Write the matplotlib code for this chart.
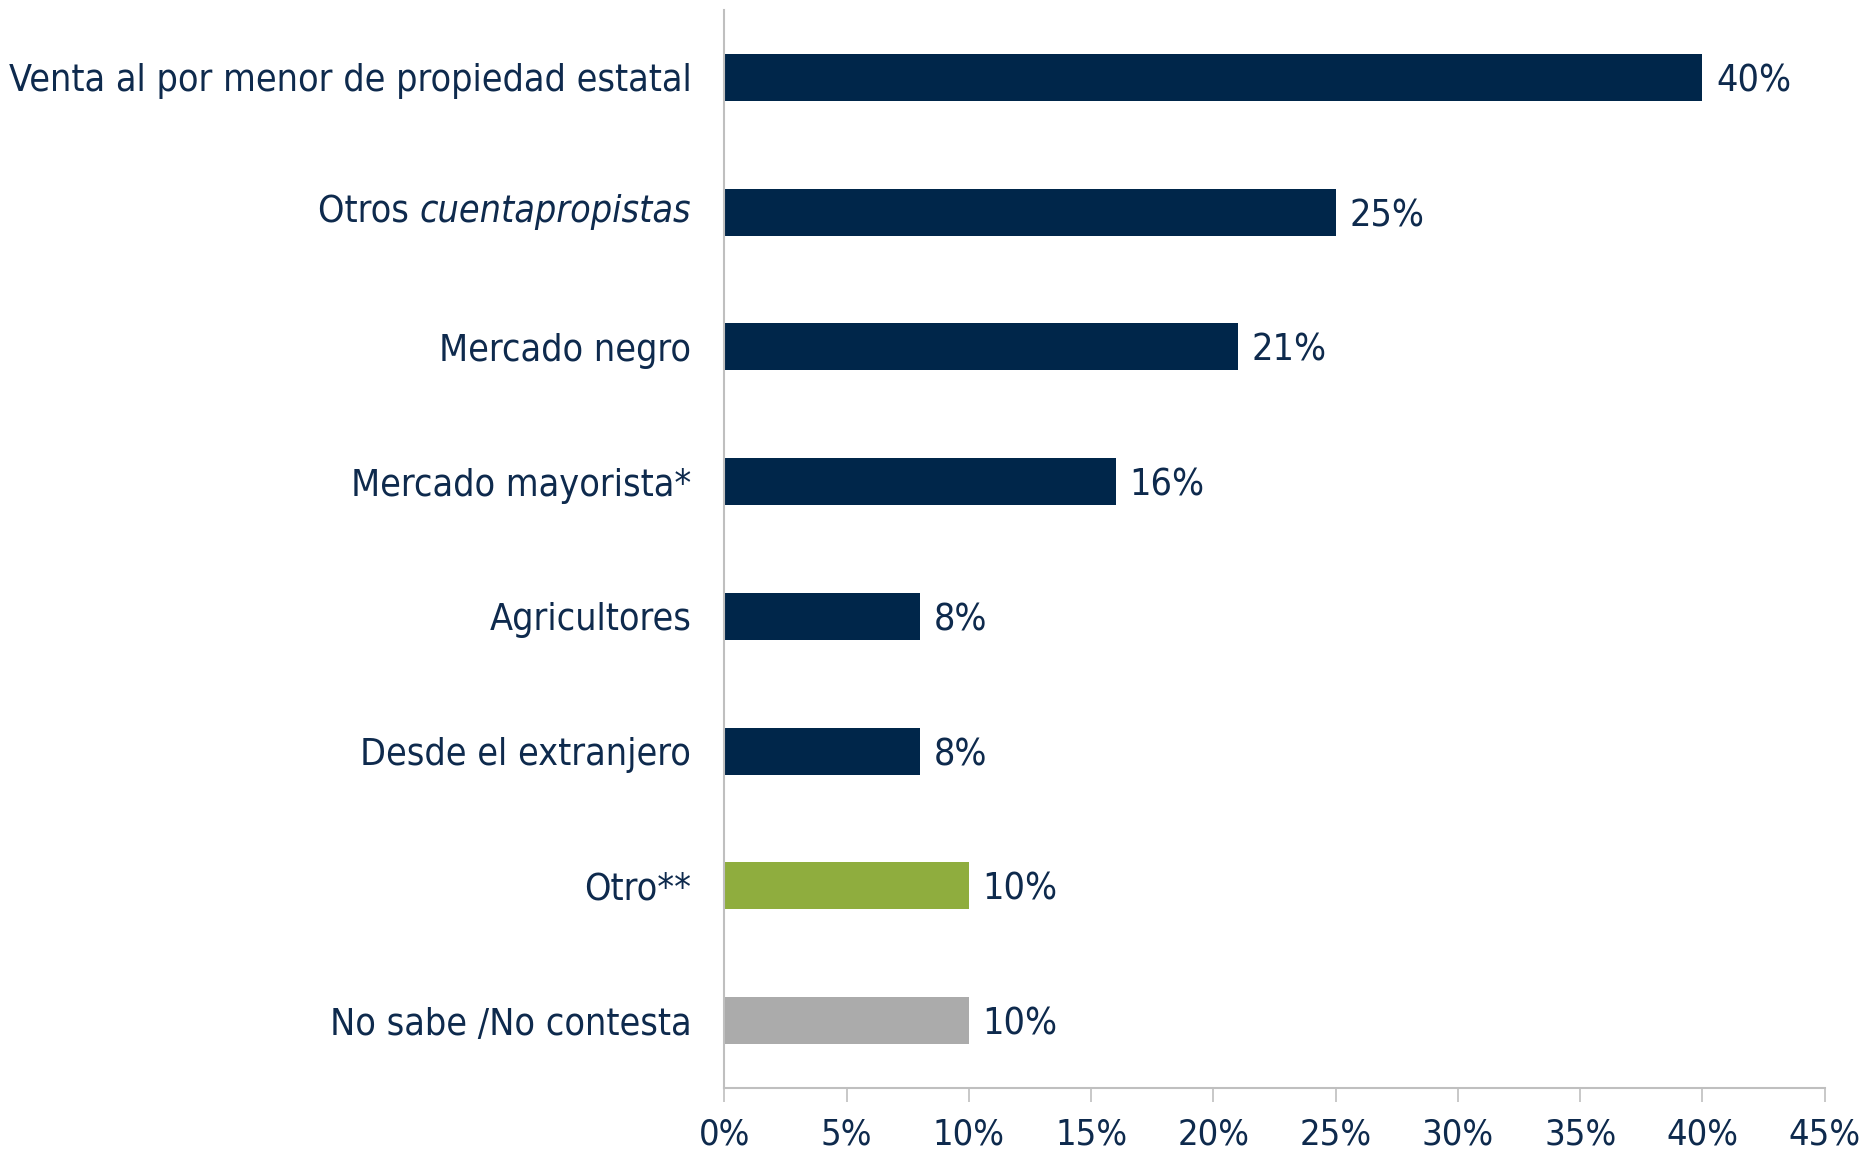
import matplotlib
matplotlib.use("Agg")
import matplotlib.pyplot as plt
from matplotlib import font_manager
from matplotlib.font_manager import FontProperties

categories = ["Venta al por menor de propiedad estatal", "Otros cuentapropistas",
              "Mercado negro", "Mercado mayorista*", "Agricultores",
              "Desde el extranjero", "Otro**", "No sabe /No contesta"]
values = [40, 25, 21, 16, 8, 8, 10, 10]
colors = ["#00264A"] * 6 + ["#8FAD3E", "#ABABAB"]
xticks = [0, 5, 10, 15, 20, 25, 30, 35, 40, 45]

# look for a narrow font file
files = {f.fname.split("/")[-1]: f.fname for f in font_manager.fontManager.ttflist}
reg, ita = None, None
for r, i in [("LiberationSansNarrow-Regular.ttf", "LiberationSansNarrow-Italic.ttf"),
             ("DejaVuSansCondensed.ttf", "DejaVuSansCondensed-Oblique.ttf")]:
    if r in files:
        reg = files[r]
        ita = files.get(i, files[r])
        break

size = 27
def fp(italic=False, s=size):
    if reg:
        return FontProperties(fname=ita if italic else reg, size=s)
    return FontProperties(family="DejaVu Sans", style="italic" if italic else "normal",
                          size=s, stretch="condensed")

text_color = "#0E2A4D"

fig = plt.figure(figsize=(18.62, 11.53), dpi=100)
ax = fig.add_axes([0.389, 0.0564, 0.591, 0.9349])

y = list(range(len(categories)))
ax.barh(y, values, height=0.35, color=colors)
for yi, v in zip(y, values):
    ax.text(v + 0.55, yi, f"{v}%", va="center_baseline", ha="left",
            fontproperties=fp(), color=text_color)

ax.set_xlim(0, 45)
ax.set_ylim(len(categories) - 0.5, -0.5)
ax.set_xticks(xticks)
ax.set_xticklabels([f"{t}%" for t in xticks], fontproperties=fp(s=26))
ax.set_yticks(y)
ax.set_yticklabels(["" if c == "Otros cuentapropistas" else c for c in categories],
                   fontproperties=fp())
pad_px = 33
ax.tick_params(axis="y", length=0, pad=pad_px * 72 / 100, labelcolor=text_color)
ax.tick_params(axis="x", length=10, width=1.2, color="#BFBFBF", pad=11,
               labelcolor=text_color)

# mixed upright/italic label
lbl_y = 1
t1 = ax.annotate("cuentapropistas", xy=(0, lbl_y), xycoords=("axes fraction", "data"),
                 xytext=(-pad_px, 0), textcoords="offset pixels", ha="right", va="center",
                 fontproperties=fp(True), color=text_color)
fig.canvas.draw()
bb = t1.get_window_extent()
ax.annotate("Otros ", xy=(0, lbl_y), xycoords=("axes fraction", "data"),
            xytext=(-pad_px - bb.width, 0), textcoords="offset pixels", ha="right", va="center",
            fontproperties=fp(), color=text_color)

for s in ["top", "right"]:
    ax.spines[s].set_visible(False)
for s in ["left", "bottom"]:
    ax.spines[s].set_color("#BFBFBF")
    ax.spines[s].set_linewidth(1.5)

fig.savefig("out.png", dpi=100)
